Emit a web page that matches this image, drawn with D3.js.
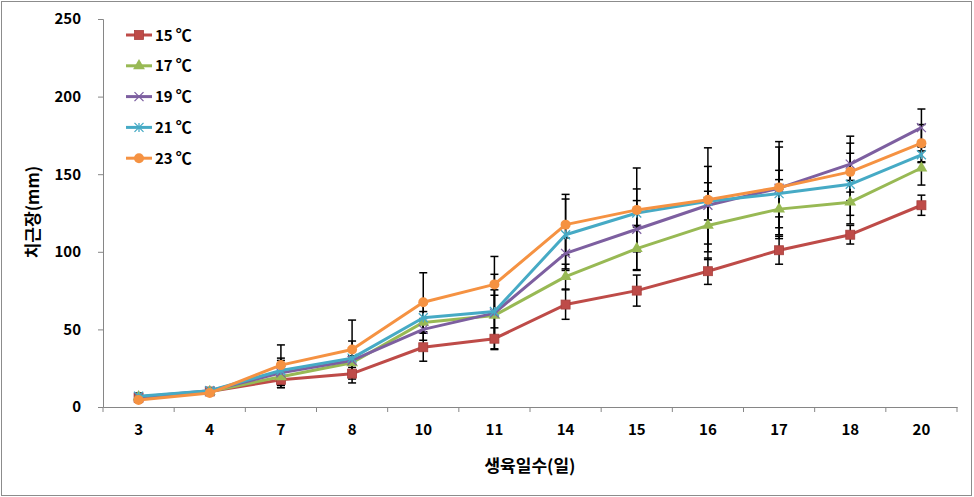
<!DOCTYPE html>
<html>
<head>
<meta charset="utf-8">
<script src="https://cdn.jsdelivr.net/npm/d3@7"></script>
<style>
	body { margin: 0; background: #fff; }
	svg { display: block; font-family: "Noto Sans CJK KR", "Noto Sans", sans-serif; font-weight: bold; }
</style>
</head>
<body>
<div id="chart"></div>
<script>
// data
var days = ["3", "4", "7", "8", "10", "11", "14", "15", "16", "17", "18", "20"]
var seriesNames = ["15℃", "17℃", "19℃", "21℃", "23℃"]
var t15 = [6, 10, 17.5, 21.5, 38.5, 44, 66, 75, 87.5, 101, 111, 130]
var t17 = [6.5, 10, 19.5, 28.5, 54.5, 59, 84, 102, 117, 127.5, 132, 154]
var t19 = [6.5, 10.5, 22, 30, 50, 60.5, 99, 114.5, 130, 141, 156.5, 180]
var t21 = [7, 10.5, 23.5, 31.5, 57.5, 61.5, 111, 125, 132.5, 137.5, 143.5, 162.5]
var t23 = [4.5, 9, 27, 37, 67.5, 79, 117.5, 127, 133.5, 141.5, 151.5, 170]
var e15 = [1.5, 1, 5, 6, 9, 7, 9.5, 10, 8.5, 9, 6, 6.5]
var e17 = [1.5, 1, 7, 3, 7, 13, 8, 14, 22, 19, 14, 11]
var e19 = [1.5, 1, 8, 3, 7, 15, 10, 26, 25, 30, 18, 12]
var e21 = [2, 1, 8, 11, 9, 24, 23, 8, 12, 15, 20, 5]
var e23 = [1.5, 1, 13, 19, 19, 18, 19.5, 27, 33.5, 26, 18.5, 12]
var yTicks = [0, 50, 100, 150, 200, 250]

var values = [t15, t17, t19, t21, t23]
var errors = [e15, e17, e19, e21, e23]
var colors = ["#BE4B48", "#98B954", "#7D5FA0", "#46AAC5", "#F59242"]
var shapes = ["square", "triangle", "x", "star", "circle"]

var width = 974, height = 497
var margin = {top: 19, right: 17, bottom: 90, left: 103}

var svg = d3.select("#chart").append("svg")
	.attr("width", width)
	.attr("height", height)

// outer frame
svg.append("rect")
	.attr("x", 1.5).attr("y", 1.5)
	.attr("width", width - 4).attr("height", height - 3)
	.attr("fill", "none")
	.attr("stroke", "#8c8c8c")

var x = d3.scaleBand()
	.domain(days)
	.range([margin.left, width - margin.right])
	.padding(0)
var y = d3.scaleLinear()
	.domain([0, 250])
	.range([height - margin.bottom, margin.top])

var cx = d => x(d) + x.bandwidth() / 2
var axisColor = "#868686"

// y axis
var yAxis = svg.append("g")
	.attr("transform", `translate(${margin.left},0)`)
	.call(d3.axisLeft(y).tickValues(yTicks).tickSize(5).tickPadding(17))
yAxis.select(".domain").attr("stroke", axisColor)
yAxis.selectAll(".tick line").attr("stroke", axisColor)
yAxis.selectAll("text")
	.attr("font-size", 15)
	.attr("font-weight", "bold")
	.attr("fill", "#000")
	.attr("font-family", "'Noto Sans CJK KR', sans-serif")

// x axis, labels at centres, ticks on category boundaries
var xAxis = svg.append("g")
	.attr("transform", `translate(0,${height - margin.bottom})`)
	.call(d3.axisBottom(x).tickSize(0).tickPadding(17))
xAxis.select(".domain").attr("stroke", axisColor)
xAxis.selectAll("text")
	.attr("font-size", 15)
	.attr("font-weight", "bold")
	.attr("fill", "#000")
	.attr("font-family", "'Noto Sans CJK KR', sans-serif")
var bounds = days.map(d => x(d)).concat([x.range()[1]])
xAxis.selectAll(".bound")
	.data(bounds)
	.enter().append("line")
	.attr("x1", d => d).attr("x2", d => d)
	.attr("y1", 0).attr("y2", 5)
	.attr("stroke", axisColor)

// axis titles
svg.append("text")
	.attr("x", 530).attr("y", 472)
	.attr("text-anchor", "middle")
	.attr("font-size", 17)
	.text("생육일수(일)")
svg.append("text")
	.attr("transform", "translate(39,212) rotate(-90)")
	.attr("text-anchor", "middle")
	.attr("font-size", 17)
	.text("치근장(mm)")

function drawMarker(g, shape, color, size) {
	var r = size / 2
	if (shape == "square") {
		g.append("rect").attr("x", -r).attr("y", -r).attr("width", size).attr("height", size)
			.attr("fill", color).attr("stroke", "#a8403d").attr("stroke-width", 0.8)
	} else if (shape == "triangle") {
		g.append("path").attr("d", d3.symbol().type(d3.symbolTriangle).size(size * size * 0.75)())
			.attr("fill", color)
	} else if (shape == "circle") {
		g.append("circle").attr("r", r).attr("fill", color)
	} else if (shape == "x") {
		g.append("path").attr("d", `M${-r},${-r}L${r},${r}M${-r},${r}L${r},${-r}`)
			.attr("stroke", color).attr("stroke-width", 1.3)
	} else if (shape == "star") {
		g.append("path").attr("d", `M${-r},${-r}L${r},${r}M${-r},${r}L${r},${-r}M0,${-r}L0,${r}`)
			.attr("stroke", color).attr("stroke-width", 1.3)
	}
}

var line = d3.line()
	.x(d => cx(d.day))
	.y(d => y(d.value))

// error bars first (drawn under lines like the original)
values.forEach(function(vals, s) {
	var pts = days.map((d, i) => ({day: d, value: vals[i], err: errors[s][i]}))
	var eg = svg.append("g").attr("stroke", "#000").attr("stroke-width", 1.5)
	pts.forEach(function(p) {
		var px = cx(p.day)
		eg.append("line").attr("x1", px).attr("x2", px)
			.attr("y1", y(p.value - p.err)).attr("y2", y(p.value + p.err))
		eg.append("line").attr("x1", px - 4).attr("x2", px + 4)
			.attr("y1", y(p.value + p.err)).attr("y2", y(p.value + p.err))
		eg.append("line").attr("x1", px - 4).attr("x2", px + 4)
			.attr("y1", y(p.value - p.err)).attr("y2", y(p.value - p.err))
	})
})

values.forEach(function(vals, s) {
	var pts = days.map((d, i) => ({day: d, value: vals[i]}))
	svg.append("path")
		.datum(pts)
		.attr("fill", "none")
		.attr("stroke", colors[s])
		.attr("stroke-width", 3)
		.attr("stroke-linejoin", "round")
		.attr("d", line)
	pts.forEach(function(p) {
		var g = svg.append("g").attr("transform", `translate(${cx(p.day)},${y(p.value)})`)
		drawMarker(g, shapes[s], colors[s], shapes[s] == "circle" ? 10 : 9)
	})
})

// legend
var legend = svg.append("g").attr("transform", "translate(126,35)")
seriesNames.forEach(function(name, s) {
	var row = legend.append("g").attr("transform", `translate(0,${s * 30.8})`)
	row.append("line").attr("x1", 0).attr("x2", 26).attr("y1", 0).attr("y2", 0)
		.attr("stroke", colors[s]).attr("stroke-width", 3)
	var m = row.append("g").attr("transform", "translate(13,0)")
	drawMarker(m, shapes[s], colors[s], shapes[s] == "circle" ? 10 : 9)
	// the degree sign sits a little apart, as in the original
	var txt = row.append("text").attr("x", 29).attr("y", 5.5).attr("font-size", 15)
	txt.append("tspan").text(name.slice(0, -1))
	txt.append("tspan").attr("dx", 3).attr("font-size", 16).text(name.slice(-1))
})
</script>
</body>
</html>
